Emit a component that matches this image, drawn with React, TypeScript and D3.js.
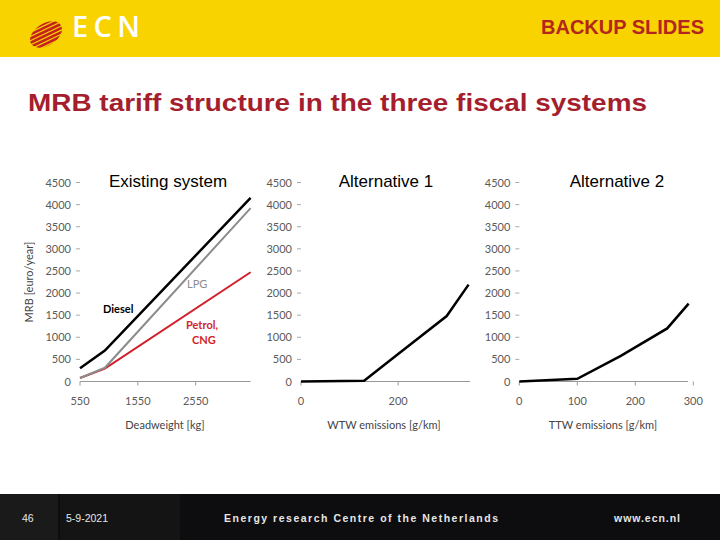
import * as d3 from 'd3';

// existing system: MRB per fuel vs deadweight
const weightKg = [550, 980, 3500];
const dieselMrb = [300, 700, 4150];
const lpgMrb = [80, 310, 3920];
const petrolMrb = [80, 290, 2470];

// alternative 1: WTW emissions
const wtwEmission = [0, 130, 200, 300, 345];
const wtwMrb = [0, 15, 620, 1480, 2190];

// alternative 2: TTW emissions
const ttwEmission = [0, 100, 175, 255, 292];
const ttwMrb = [0, 60, 580, 1200, 1760];

const mrbTicks = [0, 500, 1000, 1500, 2000, 2500, 3000, 3500, 4000, 4500];
const weightTicks = [550, 1550, 2550];
const wtwTicks = [0, 200];
const ttwTicks = [0, 100, 200, 300];

const tickFont = 'Lato, "Open Sans", sans-serif';
const yBase = 381.5;
const y = d3.scaleLinear().domain([0, 4500]).range([yBase, 182.5]);

type PanelProps = {
  title: string;
  titleX: number;
  xAxisTitle: string;
  titleAxisX: number;
  x: d3.ScaleLinear<number, number>;
  xEnd: number;
  xTicks: number[];
};

const Panel = ({ title, titleX, xAxisTitle, titleAxisX, x, xEnd, xTicks }: PanelProps) => {
  const x0 = x.range()[0];
  return (
    <g>
      {mrbTicks.map((t) => (
        <g key={t}>
          <text x={x0 - 9} y={y(t) + 4} textAnchor="end" fontSize={11} fill="#5a5a5a" fontFamily={tickFont}>
            {t}
          </text>
          {t > 0 && <line x1={x0 - 4} x2={x0} y1={y(t)} y2={y(t)} stroke="#aaa" />}
        </g>
      ))}
      <line x1={x0} x2={xEnd} y1={yBase} y2={yBase} stroke="#999" strokeWidth={1} />
      {xTicks.map((t) => (
        <g key={t}>
          <line x1={x(t)} x2={x(t)} y1={yBase} y2={yBase + 4} stroke="#999" />
          <text x={x(t)} y={405} textAnchor="middle" fontSize={11} fill="#5a5a5a" fontFamily={tickFont}>
            {t}
          </text>
        </g>
      ))}
      <text x={titleAxisX} y={429} textAnchor="middle" fontSize={11} fill="#444" fontFamily={tickFont}>
        {xAxisTitle}
      </text>
      <text x={titleX} y={187} textAnchor="middle" fontSize={17} fill="#000" fontFamily="Liberation Sans, Arial, sans-serif">
        {title}
      </text>
    </g>
  );
};

export default function App() {
  const x1 = d3.scaleLinear().domain([550, 3500]).range([80, 250.6]);
  const x2 = d3.scaleLinear().domain([0, 350]).range([301, 471]);
  const x3 = d3.scaleLinear().domain([0, 300]).range([519.3, 693.3]);

  const line = (xs: d3.ScaleLinear<number, number>, xv: number[], yv: number[]) =>
    d3
      .line<number>()
      .x((_, i) => xs(xv[i]))
      .y((d) => y(d))(yv) || '';

  const stripes = d3.range(-6, 9).map((i) => i * 4.2);

  return (
    <svg width={720} height={540} style={{ position: 'absolute', left: 0, top: 0, background: '#fff' }}>
      {/* header */}
      <rect x={0} y={0} width={720} height={57} fill="#f8d300" />
      <defs>
        <clipPath id="logoClip">
          <ellipse cx={46} cy={34.5} rx={17.5} ry={11} transform="rotate(-32 46 34.5)" />
          <circle cx={42} cy={37} r={10} />
        </clipPath>
      </defs>
      <g clipPath="url(#logoClip)">
        {stripes.map((s) => (
          <line key={s} x1={20} x2={70} y1={40 + s + 12} y2={40 + s - 12} stroke="#c5221c" strokeWidth={2.6} />
        ))}
      </g>
      <text x={72} y={37} fontSize={29} fill="#fff" fontFamily='"Open Sans", sans-serif' fontWeight={600} textLength={68} lengthAdjust="spacing">
        ECN
      </text>
      <text x={541} y={34} fontSize={20} fontWeight="bold" fill="#b3261e" fontFamily="Liberation Sans, Arial, sans-serif" textLength={163} lengthAdjust="spacingAndGlyphs">
        BACKUP SLIDES
      </text>

      {/* slide title */}
      <text x={28} y={110.5} fontSize={24} fontWeight="bold" fill="#a51e2e" fontFamily="Liberation Sans, Arial, sans-serif" textLength={619} lengthAdjust="spacingAndGlyphs">
        MRB tariff structure in the three fiscal systems
      </text>

      {/* y axis title */}
      <text transform="translate(33,282) rotate(-90)" textAnchor="middle" fontSize={11} fill="#444" fontFamily={tickFont}>
        MRB [euro/year]
      </text>

      <Panel title="Existing system" titleX={168} xAxisTitle="Deadweight [kg]" titleAxisX={165} x={x1} xEnd={250.6} xTicks={weightTicks} />
      <Panel title="Alternative 1" titleX={386} xAxisTitle="WTW emissions [g/km]" titleAxisX={384} x={x2} xEnd={470} xTicks={wtwTicks} />
      <Panel title="Alternative 2" titleX={617} xAxisTitle="TTW emissions [g/km]" titleAxisX={603} x={x3} xEnd={688} xTicks={ttwTicks} />

      <path d={line(x1, weightKg, petrolMrb)} fill="none" stroke="#d21f2a" strokeWidth={2} />
      <path d={line(x1, weightKg, lpgMrb)} fill="none" stroke="#8c8c8c" strokeWidth={2} />
      <path d={line(x1, weightKg, dieselMrb)} fill="none" stroke="#000" strokeWidth={2.5} />
      <path d={line(x2, wtwEmission, wtwMrb)} fill="none" stroke="#000" strokeWidth={2.5} />
      <path d={line(x3, ttwEmission, ttwMrb)} fill="none" stroke="#000" strokeWidth={2.5} />

      <g fontFamily={tickFont} fontSize={11}>
        <text x={103} y={313} fontWeight="bold" fill="#000">Diesel</text>
        <text x={187} y={288} fill="#8c8c8c">LPG</text>
        <text x={186} y={329} fontWeight="bold" fill="#d21f2a">Petrol,</text>
        <text x={192} y={344} fontWeight="bold" fill="#d21f2a">CNG</text>
      </g>

      {/* footer */}
      <rect x={0} y={494} width={720} height={46} fill="#0d0d0f" />
      <rect x={0} y={494} width={58} height={46} fill="#1a1a1a" />
      <rect x={60} y={494} width={120} height={46} fill="#141414" />
      <g fontFamily="Liberation Sans, Arial, sans-serif" fill="#e6e6e6">
        <text x={22} y={522} fontSize={10.5}>46</text>
        <text x={66} y={522} fontSize={10.5}>5-9-2021</text>
        <text x={224} y={522} fontSize={10.5} fontWeight="bold" textLength={274} lengthAdjust="spacing">
          Energy research Centre of the Netherlands
        </text>
        <text x={614} y={522} fontSize={10.5} fontWeight="bold" textLength={66} lengthAdjust="spacing">
          www.ecn.nl
        </text>
      </g>
    </svg>
  );
}
